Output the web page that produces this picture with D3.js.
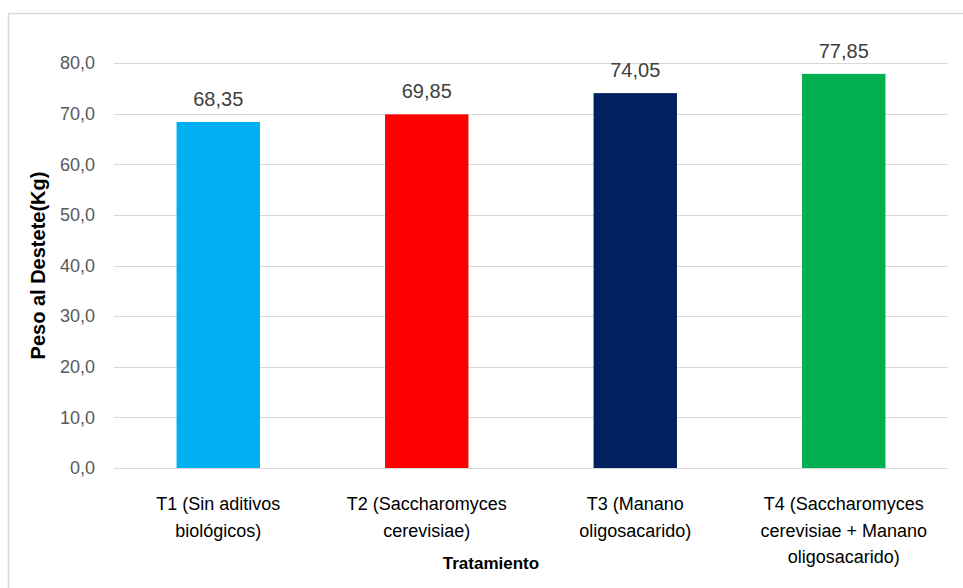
<!DOCTYPE html>
<html>
<head>
<meta charset="utf-8">
<script src="https://cdn.jsdelivr.net/npm/d3@7"></script>
<style>
  body { margin: 0; background: #fff; }
  svg { display: block; font-family: "Liberation Sans Narrow", "Liberation Sans", sans-serif; }
</style>
</head>
<body>
<svg width="963" height="588"></svg>
<script>
// data
var categories = [
  ["T1 (Sin aditivos", "biológicos)"],
  ["T2 (Saccharomyces", "cerevisiae)"],
  ["T3 (Manano", "oligosacarido)"],
  ["T4 (Saccharomyces", "cerevisiae + Manano", "oligosacarido)"]
];
var values = [68.35, 69.85, 74.05, 77.85];
var colors = ["#00b0f0", "#ff0000", "#002060", "#00b050"];
var yTicks = [0, 10, 20, 30, 40, 50, 60, 70, 80];

var svg = d3.select("svg");

// chart border
svg.append("rect")
  .attr("x", 8.5).attr("y", 13.5)
  .attr("width", 1000).attr("height", 1000)
  .attr("fill", "none").attr("stroke", "#d9d9d9").attr("stroke-width", 1.5);

var pLeft = 114, pRight = 948, pTop = 63, pBottom = 468;

var x = d3.scaleBand().domain(d3.range(values.length)).range([pLeft, pRight]).paddingInner(0.6).paddingOuter(0.3);
var y = d3.scaleLinear().domain([0, 80]).range([pBottom, pTop]);

var fmt = function(d) { return d3.format(".1f")(d).replace(".", ","); };

// gridlines
svg.append("g").selectAll("line")
  .data(yTicks)
  .enter().append("line")
  .attr("x1", pLeft).attr("x2", pRight)
  .attr("y1", function(d) { return Math.round(y(d)) + 0.5; })
  .attr("y2", function(d) { return Math.round(y(d)) + 0.5; })
  .attr("stroke", "#d9d9d9").attr("stroke-width", 1);

// y axis labels
var yAxis = svg.append("g")
  .attr("transform", "translate(" + pLeft + ",0)")
  .call(d3.axisLeft(y).tickValues(yTicks).tickFormat(fmt).tickSize(0).tickPadding(19));
yAxis.select(".domain").remove();
yAxis.selectAll("text")
  .attr("fill", "#595959")
  .style("font-size", "18px")
  .style("font-family", "inherit");

// bars
svg.selectAll(".bar")
  .data(values)
  .enter().append("rect")
  .attr("class", "bar")
  .attr("x", function(d, i) { return x(i); })
  .attr("width", x.bandwidth())
  .attr("y", function(d) { return y(d); })
  .attr("height", function(d) { return y(0) - y(d); })
  .attr("fill", function(d, i) { return colors[i]; });

// value labels
svg.selectAll(".val")
  .data(values)
  .enter().append("text")
  .attr("class", "val")
  .attr("x", function(d, i) { return x(i) + x.bandwidth() / 2; })
  .attr("y", function(d) { return y(d) - 16; })
  .attr("text-anchor", "middle")
  .attr("fill", "#404040")
  .style("font-size", "20px")
  .text(function(d) { return d.toFixed(2).replace(".", ","); });

// category labels
var cat = svg.selectAll(".cat")
  .data(categories)
  .enter().append("text")
  .attr("class", "cat")
  .attr("text-anchor", "middle")
  .attr("fill", "#000")
  .style("font-size", "18px");
cat.selectAll("tspan")
  .data(function(d, i) { return d.map(function(s) { return { s: s, i: i }; }); })
  .enter().append("tspan")
  .attr("x", function(d) { return x(d.i) + x.bandwidth() / 2; })
  .attr("y", function(d, j) { return 510 + j * 26.5; })
  .text(function(d) { return d.s; });

// axis titles
svg.append("text")
  .attr("x", 491).attr("y", 569)
  .attr("text-anchor", "middle")
  .style("font-size", "17px").style("font-weight", "bold")
  .text("Tratamiento");

svg.append("text")
  .attr("transform", "translate(45," + ((pTop + pBottom) / 2) + ") rotate(-90)")
  .attr("text-anchor", "middle")
  .style("font-size", "20px").style("font-weight", "bold")
  .text("Peso al Destete(Kg)");
</script>
</body>
</html>
